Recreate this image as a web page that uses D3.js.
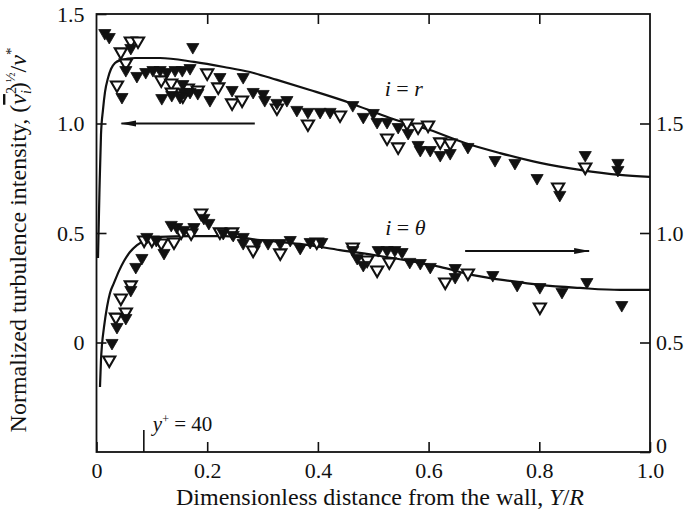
<!DOCTYPE html>
<html>
<head>
<meta charset="utf-8">
<script src="https://cdn.jsdelivr.net/npm/d3@7"></script>
<style>
  html, body { margin: 0; padding: 0; background: #fff; }
  svg text { font-family: "Liberation Serif", "Times New Roman", serif; fill: #111; }
</style>
</head>
<body>
<svg id="chart" width="687" height="520"></svg>
<script>
// ---- data: Y/R and normalized intensity ----
// i = r (left axis)
const rFilledX = [0.015,0.023,0.062,0.174,0.053,0.046,0.073,0.089,0.102,0.115,0.127,0.142,0.155,0.169,0.156,0.158,0.118,0.136,0.151,0.169,0.183,0.205,0.223,0.265,0.245,0.283,0.301,0.304,0.326,0.344,0.362,0.382,0.404,0.422,0.463,0.482,0.500,0.507,0.525,0.545,0.563,0.581,0.585,0.603,0.621,0.639,0.671,0.720,0.756,0.796,0.837,0.883,0.942,0.942];
const rFilledV = [1.413,1.395,1.345,1.349,1.244,1.121,1.217,1.235,1.244,1.244,1.235,1.244,1.244,1.253,1.180,1.144,1.116,1.130,1.121,1.144,1.139,1.107,1.212,1.212,1.153,1.144,1.135,1.107,1.094,1.107,1.062,1.053,1.053,1.053,1.084,1.030,1.048,1.007,1.007,0.984,0.957,0.902,0.879,0.879,0.856,0.865,0.893,0.833,0.820,0.751,0.674,0.856,0.820,0.788];
const rOpenX = [0.044,0.062,0.075,0.053,0.037,0.117,0.135,0.136,0.156,0.165,0.183,0.200,0.220,0.245,0.263,0.326,0.382,0.440,0.561,0.581,0.599,0.525,0.545,0.621,0.639,0.834,0.883];
const rOpenV = [1.327,1.377,1.377,1.276,1.176,1.199,1.185,1.144,1.126,1.162,1.153,1.231,1.167,1.094,1.107,1.071,0.998,1.039,1.002,0.984,0.993,0.934,0.893,0.916,0.911,0.710,0.801];

// i = theta (right axis)
const tFilledX = [0.028,0.037,0.053,0.062,0.071,0.082,0.091,0.108,0.122,0.135,0.145,0.158,0.176,0.194,0.203,0.229,0.247,0.265,0.265,0.290,0.310,0.332,0.350,0.368,0.386,0.407,0.463,0.471,0.482,0.509,0.525,0.539,0.552,0.566,0.585,0.603,0.648,0.648,0.716,0.760,0.801,0.841,0.886,0.949];
const tFilledV = [0.498,0.571,0.612,0.740,0.845,0.886,0.982,0.968,0.909,1.037,1.027,1.014,1.027,1.069,1.046,1.000,0.991,0.982,0.954,0.954,0.954,0.954,0.968,0.932,0.959,0.959,0.922,0.886,0.854,0.922,0.922,0.922,0.913,0.868,0.863,0.845,0.799,0.840,0.808,0.763,0.753,0.731,0.776,0.671];
const tOpenX = [0.023,0.035,0.044,0.053,0.062,0.086,0.100,0.117,0.140,0.153,0.171,0.189,0.223,0.245,0.283,0.332,0.398,0.463,0.489,0.507,0.529,0.630,0.671,0.801];
const tOpenV = [0.420,0.616,0.703,0.639,0.763,0.968,0.968,0.954,0.959,1.005,1.000,1.091,1.005,1.005,0.922,0.909,0.959,0.936,0.877,0.831,0.868,0.776,0.817,0.662];

// fitted curves
const rCurveX = [0.0027,0.0054,0.0081,0.0117,0.0154,0.0208,0.0262,0.0334,0.0443,0.0696,0.1147,0.1762,0.2304,0.2773,0.3261,0.3857,0.458,0.5303,0.6025,0.6657,0.729,0.8013,0.8735,0.9458,1.0];
const rCurveV = [0.386,0.696,0.948,1.062,1.144,1.208,1.249,1.276,1.290,1.299,1.299,1.281,1.258,1.235,1.199,1.153,1.094,1.025,0.970,0.911,0.865,0.820,0.788,0.765,0.756];
const tCurveX = [0.0063,0.0081,0.0099,0.0136,0.019,0.0244,0.0316,0.0407,0.0497,0.0605,0.0732,0.0912,0.1147,0.1689,0.2322,0.2954,0.3677,0.4399,0.5122,0.5664,0.6206,0.6802,0.7471,0.8013,0.8735,0.9458,1.0];
const tCurveV = [0.297,0.420,0.489,0.571,0.662,0.726,0.772,0.827,0.872,0.913,0.945,0.968,0.982,0.986,0.986,0.968,0.950,0.922,0.895,0.872,0.845,0.808,0.781,0.763,0.749,0.740,0.740];

// axes
const xTicks = [0, 0.2, 0.4, 0.6, 0.8, 1.0];
const xTickLabels = ["0", "0.2", "0.4", "0.6", "0.8", "1.0"];
const leftTicks = [0, 0.5, 1.0, 1.5];
const leftTickLabels = ["0", "0.5", "1.0", "1.5"];
const rightTicks = [0, 0.5, 1.0, 1.5];
const rightTickLabels = ["0", "0.5", "1.0", "1.5"];
const yPlusX = 0.0855;   // Y/R at y+ = 40

// ---- layout ----
const svg = d3.select("#chart");
const L = 96.5, R = 650, T = 14, B = 452;
const FS = 22;
const x = d3.scaleLinear().domain([0, 1]).range([L, R]);
const yL = d3.scaleLinear().domain([-0.5, 1.5]).range([B, T]);
const yR = d3.scaleLinear().domain([0, 2]).range([B, T]);

const pair = (xs, vs) => xs.map((d, i) => [d, vs[i]]);

// curves
const lineL = d3.line().x(d => x(d[0])).y(d => yL(d[1])).curve(d3.curveMonotoneX);
const lineR = d3.line().x(d => x(d[0])).y(d => yR(d[1])).curve(d3.curveMonotoneX);
svg.append("path").attr("d", lineL(pair(rCurveX, rCurveV)))
  .attr("fill", "none").attr("stroke", "#111").attr("stroke-width", 2.2);
svg.append("path").attr("d", lineR(pair(tCurveX, tCurveV)))
  .attr("fill", "none").attr("stroke", "#111").attr("stroke-width", 2.2);

// markers: downward triangles
const tri = d3.symbol().type(d3.symbolTriangle).size(64)();
function markers(data, yScale, filled) {
  svg.append("g").selectAll("path").data(data).join("path")
    .attr("d", tri)
    .attr("transform", d => `translate(${x(d[0])},${yScale(d[1])}) rotate(180)`)
    .attr("fill", filled ? "#111" : "#fff")
    .attr("stroke", "#111")
    .attr("stroke-width", filled ? 0.8 : 2.1);
}
markers(pair(rOpenX, rOpenV), yL, false);
markers(pair(rFilledX, rFilledV), yL, true);
markers(pair(tOpenX, tOpenV), yR, false);
markers(pair(tFilledX, tFilledV), yR, true);

// frame
svg.append("rect").attr("x", L).attr("y", T).attr("width", R - L).attr("height", B - T)
  .attr("fill", "none").attr("stroke", "#111").attr("stroke-width", 1.8);

// axes with inward ticks
function styleAxis(g) {
  g.select(".domain").remove();
  g.selectAll("line").attr("stroke", "#111").attr("stroke-width", 1.6);
  g.selectAll("text").attr("font-size", FS).attr("font-family", "Liberation Serif").attr("fill", "#111");
}
svg.append("g").attr("transform", `translate(0,${B})`)
  .call(d3.axisBottom(x).tickValues(xTicks).tickSizeInner(-10).tickSizeOuter(0).tickPadding(10)
    .tickFormat((d, i) => xTickLabels[i]))
  .call(styleAxis);
svg.append("g").attr("transform", `translate(0,${T})`)
  .call(d3.axisTop(x).tickValues(xTicks.slice(1, -1)).tickSizeInner(-10).tickSizeOuter(0).tickFormat(""))
  .call(styleAxis);
svg.append("g").attr("transform", `translate(${L},0)`)
  .call(d3.axisLeft(yL).tickValues(leftTicks).tickSizeInner(-10).tickSizeOuter(0).tickPadding(12)
    .tickFormat((d, i) => leftTickLabels[i]))
  .call(styleAxis);
const rightAxis = svg.append("g").attr("transform", `translate(${R},0)`)
  .call(d3.axisRight(yR).tickValues(rightTicks).tickSizeInner(-10).tickSizeOuter(0).tickPadding(6)
    .tickFormat((d, i) => rightTickLabels[i]))
  .call(styleAxis);
// the bottom "0" sits just above the corner, clear of the "1.0" below it
rightAxis.selectAll(".tick").filter(d => d === 0).select("text").attr("dy", "0.02em");

// y+ = 40 marker
svg.append("line").attr("x1", x(yPlusX)).attr("x2", x(yPlusX)).attr("y1", B).attr("y2", B - 22)
  .attr("stroke", "#111").attr("stroke-width", 1.6);
const yp = svg.append("text").attr("x", x(yPlusX) + 9).attr("y", B - 21).attr("font-size", FS - 1);
yp.append("tspan").attr("font-style", "italic").text("y");
yp.append("tspan").attr("font-size", 12).attr("dy", -8).text("+");
yp.append("tspan").attr("dy", 8).text(" = 40");

// arrows
svg.append("defs").append("marker").attr("id", "head")
  .attr("viewBox", "0 0 16 8").attr("refX", 15).attr("refY", 4)
  .attr("markerWidth", 16).attr("markerHeight", 8).attr("markerUnits", "userSpaceOnUse")
  .attr("orient", "auto")
  .append("path").attr("d", "M0,1 L16,4 L0,7 Z").attr("fill", "#111");
svg.append("line").attr("x1", x(0.286)).attr("x2", x(0.045)).attr("y1", yL(1.0)).attr("y2", yL(1.0))
  .attr("stroke", "#111").attr("stroke-width", 2).attr("marker-end", "url(#head)");
svg.append("line").attr("x1", x(0.666)).attr("x2", x(0.89)).attr("y1", yR(0.918)).attr("y2", yR(0.918))
  .attr("stroke", "#111").attr("stroke-width", 2).attr("marker-end", "url(#head)");

// curve labels
function eqLabel(px, py, rhs) {
  const t = svg.append("text").attr("x", px).attr("y", py).attr("font-size", FS).attr("text-anchor", "middle");
  t.append("tspan").attr("font-style", "italic").text("i");
  t.append("tspan").text(" = ");
  t.append("tspan").attr("font-style", "italic").text(rhs);
}
eqLabel(x(0.555), yL(1.125), "r");
eqLabel(x(0.558), yR(0.935) - 12, "θ");

// axis titles
const xt = svg.append("text").attr("x", 380).attr("y", 505)
  .attr("font-size", 24).attr("text-anchor", "middle");
xt.append("tspan").text("Dimensionless distance from the wall, ");
xt.append("tspan").attr("font-style", "italic").text("Y");
xt.append("tspan").text("/");
xt.append("tspan").attr("font-style", "italic").text("R");

const yt = svg.append("text").attr("transform", `translate(26,${240}) rotate(-90)`)
  .attr("font-size", 24).attr("text-anchor", "middle");
yt.append("tspan").text("Normalized turbulence intensity, (");
yt.append("tspan").attr("font-style", "italic").style("text-decoration", "overline").text("v");
yt.append("tspan").attr("font-size", 14).attr("dy", -10).text("2");
yt.append("tspan").attr("font-size", 14).attr("font-style", "italic").attr("dx", -7).attr("dy", 15).text("i");
yt.append("tspan").attr("dy", -5).text(")");
yt.append("tspan").attr("font-size", 13).attr("dy", -11).text("½");
yt.append("tspan").attr("dy", 11).text("/");
yt.append("tspan").attr("font-style", "italic").text("v");
yt.append("tspan").attr("font-size", 15).attr("dy", -10).text("*");
</script>
</body>
</html>
